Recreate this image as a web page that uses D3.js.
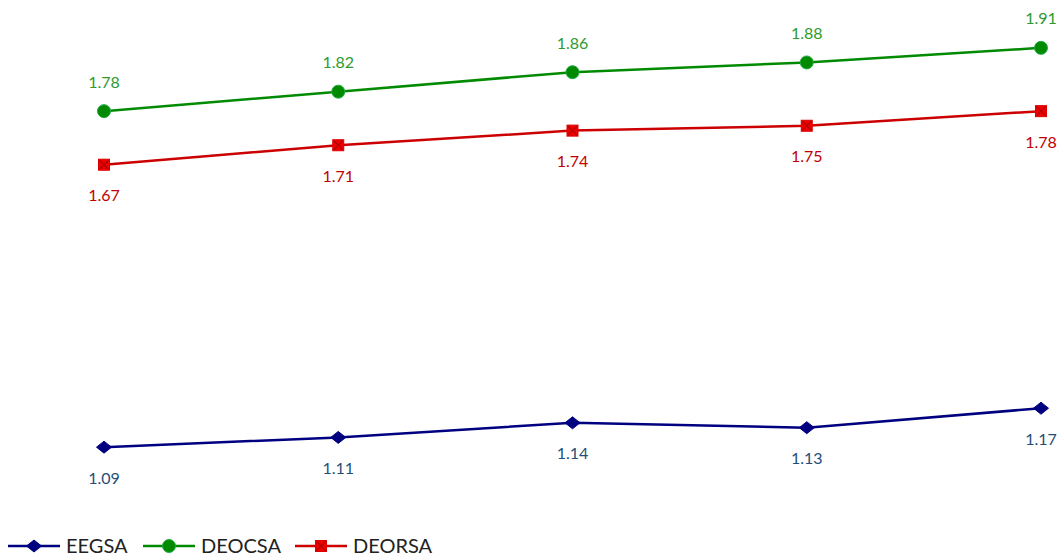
<!DOCTYPE html>
<html>
<head>
<meta charset="utf-8">
<script src="https://cdn.jsdelivr.net/npm/d3@7"></script>
<style>
  html, body { margin: 0; padding: 0; background: #fff; }
  svg { display: block; font-family: Lato, "Open Sans", sans-serif; }
</style>
</head>
<body>
<svg id="chart" width="1061" height="556"></svg>
<script>
// Five periods, three distribution companies
const periods = ["P1", "P2", "P3", "P4", "P5"];
const eegsa  = [1.09, 1.11, 1.14, 1.13, 1.17];
const deocsa = [1.78, 1.82, 1.86, 1.88, 1.91];
const deorsa = [1.67, 1.71, 1.74, 1.75, 1.78];

const seriesList = [
  { name: "EEGSA",  values: eegsa,  line: "#000080", fill: "#000080", label: "#1f4e79", marker: "diamond", labelPos: "below" },
  { name: "DEOCSA", values: deocsa, line: "#008a00", fill: "#008a00", label: "#2e9a2e", marker: "circle",  labelPos: "above" },
  { name: "DEORSA", values: deorsa, line: "#cc0000", fill: "#ee0000", label: "#c00000", marker: "square",  labelPos: "below" }
];

const svg = d3.select("#chart");

const x = d3.scalePoint().domain(periods).range([104, 1041]);
const y = d3.scaleLinear().domain([1.0, 2.0]).range([491, 4]);

const lineGen = (vals) => d3.line()
  .x((d, i) => x(periods[i]))
  .y(d => y(d))(vals);

function drawMarker(g, type, cx, cy, s) {
  if (type === "circle") {
    g.append("circle").attr("cx", cx).attr("cy", cy).attr("r", 6.5)
      .attr("fill", s.fill).attr("stroke", "#22aa44").attr("stroke-width", 1);
  } else if (type === "diamond") {
    const r = 7.5;
    g.append("path")
      .attr("d", `M${cx - r},${cy} L${cx},${cy - r + 1.5} L${cx + r},${cy} L${cx},${cy + r - 1.5} Z`)
      .attr("fill", s.fill).attr("stroke", s.fill).attr("stroke-width", 1);
  } else {
    const h = 5.5;
    g.append("rect").attr("x", cx - h).attr("y", cy - h).attr("width", 2 * h).attr("height", 2 * h)
      .attr("fill", s.fill).attr("stroke", "#dd0000").attr("stroke-width", 1);
    g.append("path")
      .attr("d", `M${cx - h + 1},${cy - h + 1} L${cx + h - 1},${cy + h - 1} M${cx + h - 1},${cy - h + 1} L${cx - h + 1},${cy + h - 1}`)
      .attr("stroke", "#b00000").attr("stroke-width", 1.2);
  }
}

seriesList.forEach(s => {
  const g = svg.append("g");
  g.append("path")
    .attr("d", lineGen(s.values))
    .attr("fill", "none")
    .attr("stroke", s.line)
    .attr("stroke-width", 2.5);
  s.values.forEach((v, i) => {
    const cx = x(periods[i]), cy = y(v);
    drawMarker(g, s.marker, cx, cy, s);
    g.append("text")
      .attr("x", cx)
      .attr("y", s.labelPos === "above" ? cy - 29 : cy + 31)
      .attr("dy", "0.35em")
      .attr("text-anchor", "middle")
      .attr("font-size", 16)
      .attr("fill", s.label)
      .text(v.toFixed(2));
  });
});

// Legend along the bottom edge
const legendX = [8, 143, 295];
const legend = svg.append("g");
seriesList.forEach((s, i) => {
  const lx = legendX[i], ly = 546;
  legend.append("line")
    .attr("x1", lx).attr("x2", lx + 52).attr("y1", ly).attr("y2", ly)
    .attr("stroke", s.line).attr("stroke-width", 2.5);
  drawMarker(legend, s.marker, lx + 26, ly, s);
  legend.append("text")
    .attr("x", lx + 58).attr("y", ly)
    .attr("dy", "0.35em")
    .attr("font-size", 20)
    .attr("fill", "#222")
    .text(s.name);
});
</script>
</body>
</html>
